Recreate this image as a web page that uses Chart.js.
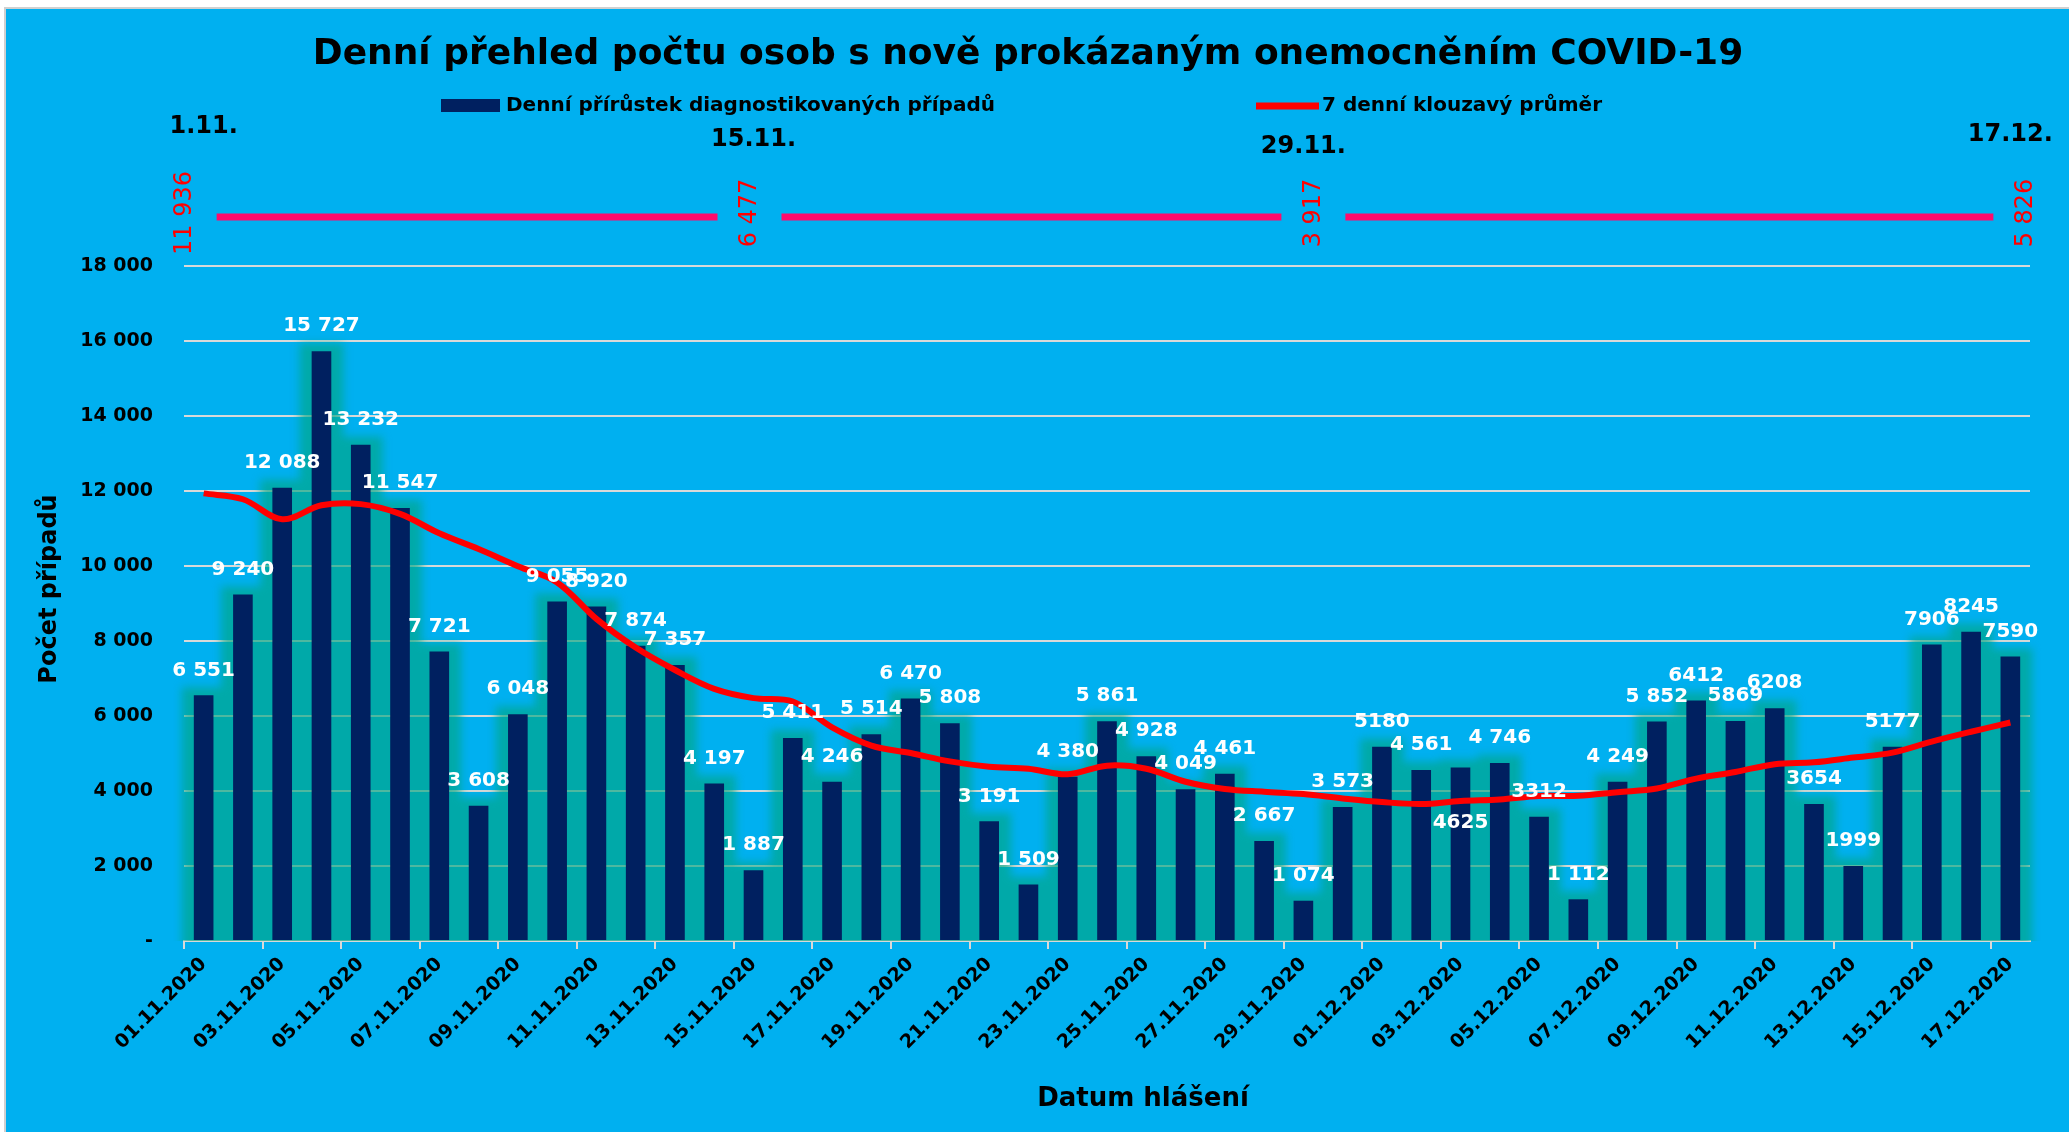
<!DOCTYPE html>
<html>
<head>
<meta charset="utf-8">
<title>Denní přehled počtu osob s nově prokázaným onemocněním COVID-19</title>
<script src="https://cdn.jsdelivr.net/npm/chart.js@4.4.0/dist/chart.umd.min.js"></script>
<style>
    html, body { margin: 0; padding: 0; background: #ffffff; }
    #wrap { width: 2069px; height: 1132px; }
</style>
</head>
<body>
<div id="wrap"><canvas id="myChart" width="2069" height="1132"></canvas></div>
<script>
// dates on the x axis
var days = [
    "01.11.2020", "02.11.2020", "03.11.2020", "04.11.2020", "05.11.2020", "06.11.2020", "07.11.2020",
    "08.11.2020", "09.11.2020", "10.11.2020", "11.11.2020", "12.11.2020", "13.11.2020", "14.11.2020",
    "15.11.2020", "16.11.2020", "17.11.2020", "18.11.2020", "19.11.2020", "20.11.2020", "21.11.2020",
    "22.11.2020", "23.11.2020", "24.11.2020", "25.11.2020", "26.11.2020", "27.11.2020", "28.11.2020",
    "29.11.2020", "30.11.2020", "01.12.2020", "02.12.2020", "03.12.2020", "04.12.2020", "05.12.2020",
    "06.12.2020", "07.12.2020", "08.12.2020", "09.12.2020", "10.12.2020", "11.12.2020", "12.12.2020",
    "13.12.2020", "14.12.2020", "15.12.2020", "16.12.2020", "17.12.2020"
];

// denní přírůstek
var dailyCases = [
    6551, 9240, 12088, 15727, 13232, 11547, 7721,
    3608, 6048, 9055, 8920, 7874, 7357, 4197,
    1887, 5411, 4246, 5514, 6470, 5808, 3191,
    1509, 4380, 5861, 4928, 4049, 4461, 2667,
    1074, 3573, 5180, 4561, 4625, 4746, 3312,
    1112, 4249, 5852, 6412, 5869, 6208, 3654,
    1999, 5177, 7906, 8245, 7590
];

// labels exactly as printed above the bars
var valueLabels = [
    "6 551", "9 240", "12 088", "15 727", "13 232", "11 547", "7 721",
    "3 608", "6 048", "9 055", "8 920", "7 874", "7 357", "4 197",
    "1 887", "5 411", "4 246", "5 514", "6 470", "5 808", "3 191",
    "1 509", "4 380", "5 861", "4 928", "4 049", "4 461", "2 667",
    "1 074", "3 573", "5180", "4 561", "4625", "4 746", "3312",
    "1 112", "4 249", "5 852", "6412", "5869", "6208", "3654",
    "1999", "5177", "7906", "8245", "7590"
];

// 7 denní klouzavý průměr
var movingAvg = [
    11936, 11780, 11245, 11620, 11650, 11390, 10872,
    10452, 9996, 9563, 8590, 7825, 7226, 6723,
    6477, 6386, 5699, 5212, 5012, 4790, 4647,
    4593, 4445, 4676, 4592, 4247, 4054, 3979,
    3917, 3802, 3705, 3652, 3734, 3775, 3867,
    3873, 3969, 4065, 4330, 4507, 4716, 4765,
    4892, 5024, 5318, 5580, 5826
];

// milestones shown on the pink strip at the top
var keyIndex = [0, 14, 28, 46];
var keyDates = ["1.11.", "15.11.", "29.11.", "17.12."];

var FONT = "'DejaVu Sans', 'Liberation Sans', sans-serif";

function withSpaces(n) {
    return String(n).replace(/\B(?=(\d{3})+(?!\d))/g, " ");
}

// background + frame
var bgPlugin = {
    id: "bg",
    beforeDraw: function (chart) {
        var ctx = chart.ctx;
        ctx.save();
        ctx.fillStyle = "#ffffff";
        ctx.fillRect(0, 0, chart.width, chart.height);
        ctx.fillStyle = "#00b0f0";
        ctx.fillRect(6, 9, chart.width - 6, chart.height - 9);
        ctx.strokeStyle = "#d0d0d0";
        ctx.lineWidth = 2;
        ctx.beginPath();
        ctx.moveTo(5, chart.height);
        ctx.lineTo(5, 8);
        ctx.lineTo(chart.width, 8);
        ctx.stroke();
        ctx.restore();
    }
};

// teal glow around the bars (Excel "glow" effect), built from the bar elements
var glowPlugin = {
    id: "glow",
    beforeDatasetsDraw: function (chart) {
        var ctx = chart.ctx;
        var area = chart.chartArea;
        var meta = chart.getDatasetMeta(0);
        ctx.save();
        ctx.beginPath();
        ctx.rect(area.left - 20, 0, area.right - area.left + 40, area.bottom);
        ctx.clip();
        ctx.fillStyle = "rgba(0,166,128,0.64)";
        ctx.filter = "blur(4px)";
        ctx.beginPath();
        meta.data.forEach(function (bar) {
            var half = bar.width / 2 + 12;
            ctx.rect(bar.x - half, bar.y - 8, half * 2, bar.base - bar.y + 20);
        });
        ctx.fill();
        ctx.restore();
    }
};

// white values above the bars
var labelPlugin = {
    id: "barValues",
    afterDatasetsDraw: function (chart) {
        var ctx = chart.ctx;
        var meta = chart.getDatasetMeta(0);
        ctx.save();
        ctx.font = "bold 20px " + FONT;
        ctx.fillStyle = "#ffffff";
        ctx.textAlign = "center";
        ctx.textBaseline = "middle";
        meta.data.forEach(function (bar, i) {
            var y = bar.y - 25;
            if (valueLabels[i] === "4625") {
                y = bar.y + 55;
            }
            ctx.fillText(valueLabels[i], bar.x, y);
        });
        ctx.restore();
    }
};

// title, legend, axis titles and the milestone strip
var headerPlugin = {
    id: "header",
    afterDraw: function (chart) {
        var ctx = chart.ctx;
        var xs = chart.scales.x;
        ctx.save();

        ctx.fillStyle = "#000000";
        ctx.textAlign = "center";
        ctx.textBaseline = "middle";
        ctx.font = "bold 36px " + FONT;
        ctx.fillText("Denní přehled počtu osob s nově prokázaným onemocněním COVID-19", 1028, 55);

        // axis titles
        ctx.font = "bold 26px " + FONT;
        ctx.fillText("Datum hlášení", 1143, 1099);
        ctx.save();
        ctx.translate(50, 589);
        ctx.rotate(-Math.PI / 2);
        ctx.font = "bold 24px " + FONT;
        ctx.fillText("Počet případů", 0, 0);
        ctx.restore();

        // legend
        var ds = chart.data.datasets;
        ctx.font = "bold 20px " + FONT;
        ctx.textAlign = "left";
        ctx.fillStyle = ds[0].backgroundColor;
        ctx.fillRect(441, 99, 59, 13);
        ctx.fillStyle = "#000000";
        ctx.fillText(ds[0].label, 506, 106);
        ctx.strokeStyle = ds[1].borderColor;
        ctx.lineWidth = 7;
        ctx.beginPath();
        ctx.moveTo(1256, 106);
        ctx.lineTo(1319, 106);
        ctx.stroke();
        ctx.fillText(ds[1].label, 1322, 106);

        // milestones
        var dateY = [127, 140, 147, 135];
        var numDx = [-19, -4, 10, 15];
        var numX = [];
        ctx.textAlign = "center";
        for (var k = 0; k < keyIndex.length; k++) {
            var bx = xs.getPixelForValue(keyIndex[k]);
            ctx.fillStyle = "#000000";
            ctx.font = "bold 24px " + FONT;
            ctx.fillText(keyDates[k], bx, dateY[k]);
            numX.push(bx + numDx[k]);
            ctx.save();
            ctx.translate(bx + numDx[k], 213);
            ctx.rotate(-Math.PI / 2);
            ctx.fillStyle = "#ff0000";
            ctx.font = "24px " + FONT;
            ctx.fillText(withSpaces(movingAvg[keyIndex[k]]), 0, 0);
            ctx.restore();
        }
        ctx.strokeStyle = "#ff0a6c";
        ctx.lineWidth = 7;
        for (var s = 0; s < numX.length - 1; s++) {
            ctx.beginPath();
            ctx.moveTo(numX[s] + 32, 217);
            ctx.lineTo(numX[s + 1] - 32, 217);
            ctx.stroke();
        }
        ctx.restore();
    }
};

var myChart = document.getElementById("myChart").getContext("2d");
var chart = new Chart(myChart, {
    type: "bar",
    data: {
        labels: days,
        datasets: [
            {
                label: "Denní přírůstek diagnostikovaných případů",
                data: dailyCases,
                backgroundColor: "#002060",
                barPercentage: 0.5,
                categoryPercentage: 1,
                order: 1
            },
            {
                type: "line",
                label: "7 denní klouzavý průměr",
                data: movingAvg,
                borderColor: "#ff0000",
                borderWidth: 6,
                pointRadius: 0,
                tension: 0.35,
                fill: false,
                order: 0
            }
        ]
    },
    options: {
        responsive: false,
        devicePixelRatio: 1,
        animation: false,
        layout: { padding: { top: 266, right: 39, left: 0, bottom: 0 } },
        plugins: {
            legend: { display: false },
            title: { display: false },
            tooltip: { enabled: false }
        },
        scales: {
            x: {
                afterFit: function (scale) { scale.height = 191; },
                grid: {
                    offset: true,
                    drawOnChartArea: false,
                    drawTicks: true,
                    tickLength: 8,
                    lineWidth: 2,
                    color: function (c) { return c.index % 2 === 0 ? "#d9d9d9" : "rgba(0,0,0,0)"; }
                },
                border: { display: true, color: "#d9d9d9", width: 2 },
                ticks: {
                    autoSkip: false,
                    minRotation: 45,
                    maxRotation: 45,
                    padding: 4,
                    color: "#000000",
                    font: { family: FONT, size: 19, weight: "bold" },
                    callback: function (v, i) { return i % 2 === 0 ? days[i] : ""; }
                }
            },
            y: {
                min: 0,
                max: 18000,
                afterFit: function (scale) { scale.width = 184; },
                grid: { color: "#d9d9d9", lineWidth: 2, drawTicks: false },
                border: { display: false },
                ticks: {
                    stepSize: 2000,
                    padding: 31,
                    color: "#000000",
                    font: { family: FONT, size: 19, weight: "bold" },
                    callback: function (v) { return v === 0 ? "-" : withSpaces(v); }
                }
            }
        }
    },
    plugins: [bgPlugin, glowPlugin, labelPlugin, headerPlugin]
});
</script>
</body>
</html>
